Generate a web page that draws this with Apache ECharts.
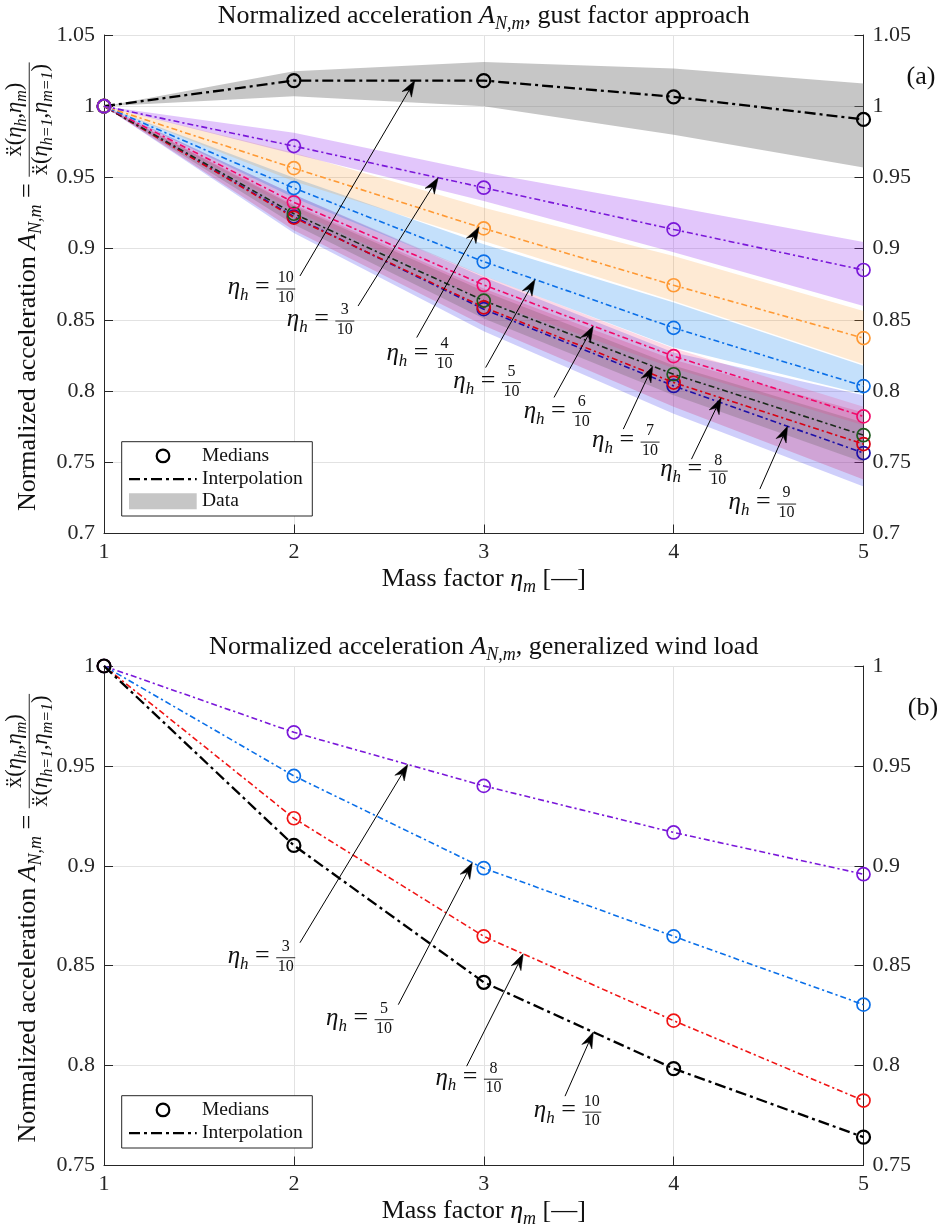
<!DOCTYPE html>
<html>
<head>
<meta charset="utf-8">
<title>Normalized acceleration</title>
<script src="https://cdn.jsdelivr.net/npm/echarts@6.0.0/dist/echarts.min.js"></script>
<style>
  html, body { margin: 0; padding: 0; background: #fff; }
  #chart { width: 941px; height: 1228px; }
</style>
</head>
<body>
<div id="chart"></div>
<script>
// ---------------- data ----------------
// mass factor eta_m (x axis)
const massFactor = [1, 2, 3, 4, 5];

// (a) gust factor approach: medians and data envelopes per height factor eta_h
const gustH10Median = [1, 1.018, 1.018, 1.0066, 0.9907];
const gustH10Upper  = [1, 1.0245, 1.031, 1.0265, 1.016];
const gustH10Lower  = [1, 1.007, 1.0, 0.980, 0.957];

const gustH3Median = [1, 0.972, 0.9428, 0.9135, 0.885];
const gustH3Upper  = [1, 0.9813, 0.9535, 0.9295, 0.9046];
const gustH3Lower  = [1, 0.9665, 0.9334, 0.8975, 0.8597];

const gustH4Median = [1, 0.9565, 0.9142, 0.8743, 0.8372];
const gustH4Upper  = [1, 0.9673, 0.9287, 0.8948, 0.8562];
const gustH4Lower  = [1, 0.9474, 0.9053, 0.8633, 0.8189];

const gustH5Median = [1, 0.9425, 0.8909, 0.8444, 0.8035];
const gustH5Upper  = [1, 0.9498, 0.903, 0.8621, 0.8177];
const gustH5Lower  = [1, 0.9358, 0.8808, 0.8306, 0.7978];

const gustH6Median = [1, 0.9325, 0.8745, 0.8245, 0.7822];
const gustH6Upper  = [1, 0.938, 0.881, 0.830, 0.789];
const gustH6Lower  = [1, 0.927, 0.864, 0.816, 0.776];

const gustH7Median = [1, 0.9245, 0.8635, 0.8118, 0.769];
const gustH7Upper  = [1, 0.930, 0.870, 0.818, 0.778];
const gustH7Lower  = [1, 0.917, 0.851, 0.797, 0.750];

const gustH8Median = [1, 0.9218, 0.8588, 0.806, 0.7628];
const gustH8Upper  = [1, 0.931, 0.872, 0.822, 0.785];
const gustH8Lower  = [1, 0.913, 0.846, 0.789, 0.738];

const gustH9Median = [1, 0.9225, 0.8575, 0.8036, 0.7565];
const gustH9Upper  = [1, 0.938, 0.880, 0.827, 0.797];
const gustH9Lower  = [1, 0.911, 0.842, 0.784, 0.733];

// (b) generalized wind load: medians per height factor eta_h
const windH3Median  = [1, 0.9668, 0.940, 0.9167, 0.8958];
const windH5Median  = [1, 0.945, 0.8988, 0.8647, 0.8305];
const windH8Median  = [1, 0.9238, 0.8647, 0.8225, 0.7825];
const windH10Median = [1, 0.9102, 0.8417, 0.7985, 0.7642];

// y tick ranges
const gustYRange = [0.7, 1.05];
const windYRange = [0.75, 1];
const yStep = 0.05;

// ---------------- style ----------------
const FONT = '"Liberation Serif", "DejaVu Serif", "Times New Roman", serif';
const INK = '#262626';
const GRIDLINE = '#e2e2e2';
const DASH_BOLD = [11, 4, 3, 4];
const DASH_THIN = [6, 3, 2.2, 3];

const G0 = { left: 104, top: 35, width: 759.5, height: 498.5 };
const G1 = { left: 104, top: 666, width: 759.5, height: 499.5 };

function fmt(v) { return String(+(+v).toFixed(2)); }

function xAxisCfg(gi) {
  return {
    type: 'value', gridIndex: gi, min: 1, max: 5, interval: 1,
    axisLine: { show: true, onZero: false, lineStyle: { color: INK, width: 1 } },
    axisTick: { show: true, inside: true, length: 9, lineStyle: { color: INK, width: 1 } },
    axisLabel: { fontFamily: FONT, fontSize: 22, color: INK, margin: 8,
                 showMinLabel: true, showMaxLabel: true },
    splitLine: { show: true, lineStyle: { color: GRIDLINE, width: 1 } }
  };
}
function yAxisCfg(gi, pos, range) {
  return {
    type: 'value', gridIndex: gi, position: pos, min: range[0], max: range[1], interval: yStep,
    axisLine: { show: true, onZero: false, lineStyle: { color: INK, width: 1 } },
    axisTick: { show: true, inside: true, length: 9, lineStyle: { color: INK, width: 1 } },
    axisLabel: { formatter: fmt, fontFamily: FONT, fontSize: 22, color: INK, margin: 9,
                 showMinLabel: true, showMaxLabel: true },
    splitLine: { show: pos === 'left', lineStyle: { color: GRIDLINE, width: 1 } }
  };
}

// shaded envelope between lower and upper bound
function bandSeries(gi, lower, upper, fill) {
  return {
    type: 'custom', xAxisIndex: gi, yAxisIndex: gi * 2, silent: true, z: 1,
    data: massFactor.map((x, i) => [x, lower[i], upper[i]]),
    encode: { x: 0, y: [1, 2] },
    renderItem(params, api) {
      if (params.dataIndex !== 0) return null;
      const pts = [];
      for (let i = 0; i < massFactor.length; i++) pts.push(api.coord([massFactor[i], upper[i]]));
      for (let i = massFactor.length - 1; i >= 0; i--) pts.push(api.coord([massFactor[i], lower[i]]));
      return { type: 'polygon', shape: { points: pts }, style: { fill: fill, stroke: null } };
    }
  };
}

// dash-dot interpolation line with hollow circles at the medians
function medianSeries(gi, values, color, opts) {
  opts = opts || {};
  return {
    type: 'line', xAxisIndex: gi, yAxisIndex: gi * 2, z: opts.z || 3,
    silent: true, animation: false,
    data: massFactor.map((x, i) => [x, values[i]]),
    symbol: 'circle', symbolSize: opts.sym || 13, showSymbol: true, showAllSymbol: true,
    itemStyle: { color: 'rgba(0,0,0,0)', borderColor: opts.markColor || color, borderWidth: opts.bw || 1.7 },
    lineStyle: { color: color, width: opts.lw || 1.6, type: opts.dash || DASH_THIN },
    emphasis: { disabled: true }
  };
}

const gustSeriesDefs = [
  { med: gustH10Median, lo: gustH10Lower, hi: gustH10Upper, color: '#000000', fill: 'rgba(120,120,120,0.42)', bold: true },
  { med: gustH9Median,  lo: gustH9Lower,  hi: gustH9Upper,  color: '#1d10a8', fill: 'rgba(55,55,240,0.24)' },
  { med: gustH8Median,  lo: gustH8Lower,  hi: gustH8Upper,  color: '#d80012', fill: 'rgba(215,30,95,0.24)' },
  { med: gustH7Median,  lo: gustH7Lower,  hi: gustH7Upper,  color: '#1a2a1a', mark: '#1d5a1d', fill: 'rgba(85,85,75,0.24)' },
  { med: gustH6Median,  lo: gustH6Lower,  hi: gustH6Upper,  color: '#f2086a', fill: 'rgba(245,60,130,0.2)' },
  { med: gustH5Median,  lo: gustH5Lower,  hi: gustH5Upper,  color: '#0a6fe8', fill: 'rgba(20,130,240,0.25)' },
  { med: gustH4Median,  lo: gustH4Lower,  hi: gustH4Upper,  color: '#ff9933', fill: 'rgba(250,150,40,0.2)' },
  { med: gustH3Median,  lo: gustH3Lower,  hi: gustH3Upper,  color: '#7a17d9', fill: 'rgba(150,50,240,0.28)' }
];
const windSeriesDefs = [
  { med: windH3Median,  color: '#7a17d9' },
  { med: windH5Median,  color: '#0a6fe8' },
  { med: windH8Median,  color: '#f01414' },
  { med: windH10Median, color: '#000000', bold: true }
];

const series = [];
gustSeriesDefs.forEach(d => series.push(bandSeries(0, d.lo, d.hi, d.fill)));
gustSeriesDefs.forEach(d => series.push(medianSeries(0, d.med, d.color, d.bold
  ? { lw: 2.3, dash: DASH_BOLD, bw: 2.2, z: 3 }
  : { markColor: d.mark, z: 4 })));
windSeriesDefs.forEach(d => series.push(medianSeries(1, d.med, d.color, d.bold
  ? { lw: 2.3, dash: DASH_BOLD, bw: 2.2, z: 4 }
  : { z: 3 })));

const chart = echarts.init(document.getElementById('chart'), null, { renderer: 'canvas' });
chart.setOption({
  animation: false,
  backgroundColor: '#ffffff',
  grid: [G0, G1],
  xAxis: [xAxisCfg(0), xAxisCfg(1)],
  yAxis: [yAxisCfg(0, 'left', gustYRange), yAxisCfg(0, 'right', gustYRange),
          yAxisCfg(1, 'left', windYRange), yAxisCfg(1, 'right', windYRange)],
  series: series
});

// ---------------- math-style text layout ----------------
const mctx = document.createElement('canvas').getContext('2d');
function fnt(s, it) { return (it ? 'italic ' : '') + s + 'px ' + FONT; }
function tw(t, s, it) { mctx.font = fnt(s, it); return mctx.measureText(t).width; }
function T(t, s, it, dy) { return { t: t, s: s, i: !!it, dy: dy || 0 }; }
function F(num, den, s, fs) { return { frac: true, num: num, den: den, s: s, fs: fs }; }

function layoutRow(tokens, x0, y0, out) {
  let x = x0;
  for (const tk of tokens) {
    if (tk.frac) {
      const nw = layoutRow(tk.num, 0, 0, []), dw = layoutRow(tk.den, 0, 0, []);
      const w = Math.max(nw, dw) + 3;
      const axis = y0 - 0.26 * tk.s;
      layoutRow(tk.num, x + 1.5 + (w - 3 - nw) / 2, axis - (0.22 * tk.fs + 2.5), out);
      layoutRow(tk.den, x + 1.5 + (w - 3 - dw) / 2, axis + (0.70 * tk.fs + 2.5), out);
      out.push({ line: [x, axis, x + w, axis] });
      x += w + 1;
    } else {
      out.push({ t: tk.t, s: tk.s, i: tk.i, x: x, y: y0 + tk.dy });
      x += tw(tk.t, tk.s, tk.i);
    }
  }
  return x - x0;
}

// group of text pieces; anchor: 'center' | 'left'; (x, y) is the baseline anchor
function mathGroup(tokens, x, y, anchor, rotation, color) {
  const out = [];
  const w = layoutRow(tokens, 0, 0, out);
  const off = anchor === 'center' ? -w / 2 : 0;
  const children = out.map(o => o.line
    ? { type: 'line', silent: true,
        shape: { x1: o.line[0] + off, y1: o.line[1], x2: o.line[2] + off, y2: o.line[3] },
        style: { stroke: color, lineWidth: 0.9 } }
    : { type: 'text', silent: true, x: o.x + off, y: o.y - 0.3 * o.s,
        style: { text: o.t, font: fnt(o.s, o.i), fill: color,
                 textAlign: 'left', align: 'left', textVerticalAlign: 'middle', verticalAlign: 'middle' } });
  return { type: 'group', x: x, y: y, rotation: rotation || 0, children: children, silent: true, width: w };
}

// ---------------- annotations ----------------
const S_MAIN = 26, S_SUB = 18;
const etaSub = (s, sub, letter) => [T('\u03b7', s, true), T(letter, sub, true, 0.22 * s)];

function titleTokens(suffix) {
  return [T('Normalized acceleration ', S_MAIN), T('A', S_MAIN, true),
          T('N,m', S_SUB, true, 5.5), T(suffix, S_MAIN)];
}
function xNameTokens() {
  return [T('Mass factor ', S_MAIN)].concat(etaSub(S_MAIN, S_SUB, 'm'), [T(' [\u2014]', S_MAIN)]);
}
function yNameTokens() {
  const fs = 22.5, fsub = 16;
  const num = [T('\u1e8d(', fs)].concat(etaSub(fs, fsub, 'h'), [T(',', fs)], etaSub(fs, fsub, 'm'), [T(')', fs)]);
  const den = [T('\u1e8d(', fs)].concat(etaSub(fs, fsub, 'h=1'), [T(',', fs)], etaSub(fs, fsub, 'm=1'), [T(')', fs)]);
  return [T('Normalized acceleration ', S_MAIN), T('A', S_MAIN, true), T('N,m', S_SUB, true, 5.5),
          T(' = ', S_MAIN), F(num, den, S_MAIN, fs)];
}
function etaLabelTokens(n, d) {
  return etaSub(25, 17, 'h').concat([T(' = ', 26), F([T(n, 16)], [T(d, 16)], 24, 16)]);
}

// arrow annotations: which curve, where the head lands (eta_m), tail point (data), label offset (px)
const gustArrows = [
  { ref: gustH10Median, tipX: 2.637, tailX: 2.032, tailY: 0.8808, num: '10', den: '10', dx: -38, dy: 13 },
  { ref: gustH3Median,  tipX: 2.76,  tailX: 2.338, tailY: 0.8597, num: '3',  den: '10', dx: -37, dy: 15 },
  { ref: gustH4Median,  tipX: 2.975, tailX: 2.647, tailY: 0.8376, num: '4',  den: '10', dx: 4,   dy: 17 },
  { ref: gustH5Median,  tipX: 3.27,  tailX: 3.010, tailY: 0.8165, num: '5',  den: '10', dx: 2,   dy: 15 },
  { ref: gustH6Median,  tipX: 3.577, tailX: 3.370, tailY: 0.7955, num: '6',  den: '10', dx: 4,   dy: 15 },
  { ref: gustH7Median,  tipX: 3.89,  tailX: 3.735, tailY: 0.7733, num: '7',  den: '10', dx: 3,   dy: 13 },
  { ref: gustH8Median,  tipX: 4.25,  tailX: 4.094, tailY: 0.7522, num: '8',  den: '10', dx: 3,   dy: 12 },
  { ref: gustH9Median,  tipX: 4.60,  tailX: 4.454, tailY: 0.7312, num: '9',  den: '10', dx: 3,   dy: 15 }
];
const windArrows = [
  { ref: windH3Median,  tipX: 2.60,  tailX: 2.032, tailY: 0.8615, num: '3',  den: '10', dx: -38, dy: 15 },
  { ref: windH5Median,  tipX: 2.94,  tailX: 2.550, tailY: 0.8305, num: '5',  den: '10', dx: -38, dy: 15 },
  { ref: windH8Median,  tipX: 3.208, tailX: 2.910, tailY: 0.7997, num: '8',  den: '10', dx: 3,   dy: 13 },
  { ref: windH10Median, tipX: 3.577, tailX: 3.428, tailY: 0.7847, num: '10', den: '10', dx: 3,   dy: 16 }
];

function interp(vals, x) {
  for (let i = 0; i < massFactor.length - 1; i++) {
    if (x >= massFactor[i] && x <= massFactor[i + 1]) {
      const t = (x - massFactor[i]) / (massFactor[i + 1] - massFactor[i]);
      return vals[i] + t * (vals[i + 1] - vals[i]);
    }
  }
  return vals[vals.length - 1];
}

function arrowGraphics(gi, a) {
  const finder = { xAxisIndex: gi, yAxisIndex: gi * 2 };
  const tip = chart.convertToPixel(finder, [a.tipX, interp(a.ref, a.tipX)]);
  const tail = chart.convertToPixel(finder, [a.tailX, a.tailY]);
  const ux = tip[0] - tail[0], uy = tip[1] - tail[1];
  const len = Math.hypot(ux, uy), ex = ux / len, ey = uy / len, nx = -ey, ny = ex;
  const L = 16, W = 11;
  const notch = [tip[0] - 0.68 * L * ex, tip[1] - 0.68 * L * ey];
  const head = [tip,
    [tip[0] - L * ex + W / 2 * nx, tip[1] - L * ey + W / 2 * ny],
    notch,
    [tip[0] - L * ex - W / 2 * nx, tip[1] - L * ey - W / 2 * ny]];
  const lbl = mathGroup(etaLabelTokens(a.num, a.den), tail[0] + a.dx, tail[1] + a.dy + 0.26 * 24, 'center', 0, '#111');
  return [
    { type: 'line', silent: true, z: 10, shape: { x1: tail[0], y1: tail[1], x2: notch[0], y2: notch[1] },
      style: { stroke: '#000', lineWidth: 1 } },
    { type: 'polygon', silent: true, z: 10, shape: { points: head }, style: { fill: '#000', stroke: '#000', lineWidth: 0.5 } },
    Object.assign(lbl, { z: 10 })
  ];
}

function legendGraphics(grid, withData) {
  const x0 = grid.left + 17.7, y1 = grid.top + grid.height - 17.5;
  const h = withData ? 74.3 : 52.3, y0 = y1 - h, w = 190.6;
  const g = [
    { type: 'rect', z: 20, silent: true, shape: { x: x0, y: y0, width: w, height: h },
      style: { fill: '#fff', stroke: INK, lineWidth: 1 } },
    { type: 'circle', z: 21, silent: true, shape: { cx: x0 + 41.3, cy: y0 + 14.2, r: 6.3 },
      style: { fill: 'none', stroke: '#000', lineWidth: 2.2 } },
    { type: 'line', z: 21, silent: true, shape: { x1: x0 + 7.3, y1: y0 + 37.4, x2: x0 + 75, y2: y0 + 37.4 },
      style: { stroke: '#000', lineWidth: 2.3, lineDash: DASH_BOLD } }
  ];
  const items = [['Medians', 14.2], ['Interpolation', 37.4]];
  if (withData) {
    g.push({ type: 'rect', z: 21, silent: true, shape: { x: x0 + 7.3, y: y0 + 51.6, width: 67.7, height: 16 },
             style: { fill: 'rgba(120,120,120,0.42)' } });
    items.push(['Data', 59.6]);
  }
  items.forEach(it => g.push({ type: 'text', z: 21, silent: true, x: x0 + 80.3, y: y0 + it[1],
    style: { text: it[0], font: fnt(19.5, false), fill: '#111', textAlign: 'left', align: 'left',
             textVerticalAlign: 'middle', verticalAlign: 'middle' } }));
  return g;
}

const graphics = [];
const cx = G0.left + G0.width / 2;
graphics.push(mathGroup(titleTokens(', gust factor approach'), cx, 24, 'center', 0, '#111'));
graphics.push(mathGroup(titleTokens(', generalized wind load'), cx, 655, 'center', 0, '#111'));
graphics.push(mathGroup(xNameTokens(), cx, G0.top + G0.height + 53, 'center', 0, '#111'));
graphics.push(mathGroup(xNameTokens(), cx, G1.top + G1.height + 53, 'center', 0, '#111'));
[G0, G1].forEach(g => {
  const yl = mathGroup(yNameTokens(), 36, 0, 'left', Math.PI / 2, '#111');
  yl.y = g.top + g.height / 2 + yl.width / 2 + 2;
  graphics.push(yl);
});
graphics.push({ type: 'text', silent: true, x: 921, y: 77,
  style: { text: '(a)', font: fnt(S_MAIN, false), fill: '#111', textAlign: 'center', align: 'center',
           textVerticalAlign: 'middle', verticalAlign: 'middle' } });
graphics.push({ type: 'text', silent: true, x: 923, y: 708,
  style: { text: '(b)', font: fnt(S_MAIN, false), fill: '#111', textAlign: 'center', align: 'center',
           textVerticalAlign: 'middle', verticalAlign: 'middle' } });
gustArrows.forEach(a => graphics.push(...arrowGraphics(0, a)));
windArrows.forEach(a => graphics.push(...arrowGraphics(1, a)));
graphics.push(...legendGraphics(G0, true));
graphics.push(...legendGraphics(G1, false));

chart.setOption({ graphic: graphics });
</script>
</body>
</html>
